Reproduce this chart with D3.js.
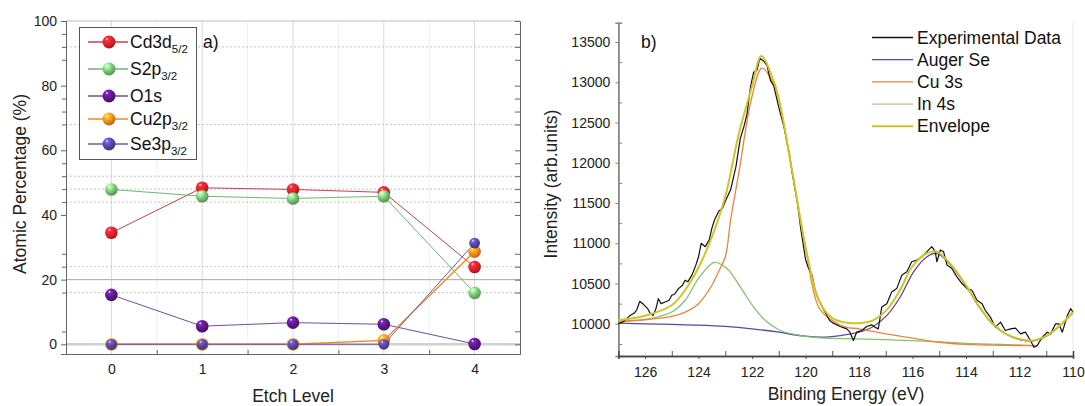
<!DOCTYPE html>
<html>
<head>
<meta charset="utf-8">
<script src="https://cdnjs.cloudflare.com/ajax/libs/d3/7.8.5/d3.min.js"></script>
<style>
body { margin: 0; background: #fff; }
svg { display: block; font-family: "Liberation Sans", Arial, sans-serif; }
</style>
</head>
<body>
<div id="chart"></div>
<script>
// Panel a) data
var etch_levels = [0, 1, 2, 3, 4];
var cd3d  = [34.5, 48.4, 47.9, 47.0, 23.9];
var s2p   = [47.9, 45.8, 45.1, 45.8, 15.9];
var o1s   = [15.3, 5.6, 6.7, 6.2, 0.1];
var cu2p  = [0, 0, 0, 1.2, 28.7];
var se3p  = [0, 0, 0, 0, 31.3];
var series_names = [['Cd3d', '5/2'], ['S2p', '3/2'], ['O1s', ''], ['Cu2p', '3/2'], ['Se3p', '3/2']];
var y_ticks_a = [0, 20, 40, 60, 80, 100];
var y_minor_a = [4, 16, 24, 28, 44, 48, 52, 56, 68, 72, 76, 88, 92, 96];
var dotted_a  = [92, 68, 52, 48, 44, 24, 16];

// Panel b) data  [binding energy, intensity]
var exp_data = [
    [127.0,10000],[126.85,10020],[126.75,10042],[126.56,10104],[126.4,10133],[126.3,10180],
    [126.2,10279],[126.06,10242],[125.9,10188],[125.8,10125],[125.7,10104],[125.6,10180],
    [125.5,10312],[125.4,10250],[125.25,10271],[125.1,10292],[125.0,10354],[124.9,10367],
    [124.75,10437],[124.6,10479],[124.5,10542],[124.4,10521],[124.25,10604],[124.1,10729],
    [124.0,10833],[123.9,11000],[123.75,10958],[123.6,11042],[123.5,11188],[123.4,11292],
    [123.25,11396],[123.1,11438],[123.0,11521],[122.8,11664],[122.6,11955],[122.44,12300],
    [122.3,12453],[122.19,12604],[122.06,12938],[121.94,13125],[121.81,13154],[121.71,13300],
    [121.56,13262],[121.44,13208],[121.31,13021],[121.19,12958],[121.0,12688],[120.8,12438],
    [120.6,12104],[120.5,11880],[120.3,11500],[120.19,11208],[120.0,10800],[119.9,10700],
    [119.75,10600],[119.63,10400],[119.5,10292],[119.31,10167],[119.21,10110],[119.1,10040],
    [118.96,10008],[118.71,9967],[118.46,9937],[118.34,9896],[118.21,9792],[118.09,9896],
    [117.9,9917],[117.71,9967],[117.53,9987],[117.4,9958],[117.28,9937],[117.15,10208],
    [116.96,10250],[116.78,10396],[116.59,10437],[116.4,10604],[116.21,10646],[116.03,10771],
    [115.84,10792],[115.65,10833],[115.46,10896],[115.28,10958],[115.15,10896],[115.09,10771],
    [114.96,10917],[114.84,10896],[114.71,10729],[114.53,10687],[114.34,10583],[114.15,10500],
    [113.96,10437],[113.78,10417],[113.59,10292],[113.4,10250],[113.28,10167],[113.09,10083],
    [112.9,9958],[112.71,10021],[112.53,9917],[112.34,9937],[112.15,9946],[111.96,9875],
    [111.78,9896],[111.59,9792],[111.46,9708],[111.34,9729],[111.15,9833],[110.96,9896],
    [110.84,9875],[110.65,10000],[110.53,10000],[110.4,9896],[110.21,10104],[110.09,10188],
    [110.0,10146]
];
var auger_se = [
    [127,10008],[126,10000],[125,9992],[124,9983],[123,9967],[122,9937],[121,9896],[120.5,9867],
    [120,9846],[119.46,9833],[118.7,9854],[118,9896],[117.46,9967],[116.96,10104],[116.46,10333],
    [115.96,10646],[115.46,10833],[115.09,10875],[114.6,10740],[114,10470],[113.5,10205],
    [113,9995],[112.5,9870],[112,9805],[111.5,9785],[111,9845],[110.5,9970],[110,10140]
];
var cu_3s = [
    [127,10029],[126,10050],[125,10092],[124.5,10146],[124,10250],[123.5,10479],[123.25,10650],
    [123,10830],[122.8,11292],[122.5,11863],[122,12826],[121.63,13175],[121.2,12985],[121,12780],
    [120.5,11880],[120,10940],[119.5,10200],[119,10042],[118.5,9960],[118,9937],[117,9875],
    [116,9821],[115,9771],[114,9745],[113,9735],[112,9729],[111.4,9727]
];
var in_4s = [
    [127,10029],[126,10054],[125,10146],[124.5,10292],[124,10563],[123.41,10763],[122.94,10688],
    [122.44,10458],[121.94,10208],[121.44,10021],[120.94,9917],[120.19,9854],[119.44,9825],
    [118,9812],[116,9792],[114,9758],[112,9737],[111.4,9729]
];
var envelope = [
    [127,10045],[126,10100],[125,10230],[124.5,10420],[124,10700],[123.5,11080],[123,11580],
    [122.5,12350],[122,12950],[121.65,13325],[121.2,13020],[121,12800],[120.5,11900],[120,10960],
    [119.5,10290],[119,10070],[118.5,10015],[118,10008],[117.5,10040],[117,10160],[116.5,10400],
    [116,10715],[115.5,10870],[115.1,10896],[114.6,10750],[114,10480],[113.5,10210],[113,10000],
    [112.5,9875],[112,9812],[111.5,9792],[111,9850],[110.5,9975],[110,10146]
];
var legend_b = ['Experimental Data', 'Auger Se', 'Cu 3s', 'In 4s', 'Envelope'];
var y_ticks_b = [10000, 10500, 11000, 11500, 12000, 12500, 13000, 13500];
var x_ticks_b = [126, 124, 122, 120, 118, 116, 114, 112, 110];

var chart_width  = 1085;
var chart_height = 406;

var svg = d3.select('#chart')
    .append('svg')
    .attr('width', chart_width)
    .attr('height', chart_height);

// sphere gradients for the markers
var colors_a = ['#e2222b', '#7cc878', '#5e1a8c', '#f7901e', '#5a48a8'];
var line_colors_a = ['#c8404a', '#6cb86c', '#7a4a9a', '#f08a1a', '#6a5ab8'];
var defs = svg.append('defs');
colors_a.forEach(function(c, i){
    var g = defs.append('radialGradient')
        .attr('id', 'ball' + i)
        .attr('cx', '38%').attr('cy', '32%').attr('r', '68%')
        .attr('fx', '34%').attr('fy', '26%');
    g.append('stop').attr('offset', '0%').attr('stop-color', '#ffffff');
    g.append('stop').attr('offset', '18%').attr('stop-color', d3.color(c).brighter(0.9));
    g.append('stop').attr('offset', '55%').attr('stop-color', c);
    g.append('stop').attr('offset', '100%').attr('stop-color', d3.color(c).darker(0.9));
});

// ---------- panel a ----------
var x_a = d3.scaleLinear().domain([-0.5, 4.5]).range([66, 520]);
var y_a = d3.scaleLinear().domain([-3, 100]).range([354, 21]);

var pa = svg.append('g');

// vertical grid
pa.selectAll('.vminor')
    .data([0.5, 1.5, 2.5, 3.5])
    .enter()
    .append('line')
    .attr('x1', function(d){ return x_a(d); })
    .attr('x2', function(d){ return x_a(d); })
    .attr('y1', y_a(100)).attr('y2', y_a(-3))
    .attr('stroke', '#f0f0f0');
pa.selectAll('.vgrid')
    .data(etch_levels)
    .enter()
    .append('line')
    .attr('x1', function(d){ return x_a(d); })
    .attr('x2', function(d){ return x_a(d); })
    .attr('y1', y_a(100)).attr('y2', y_a(-3))
    .attr('stroke', '#d9d9d9');

// horizontal grid
pa.selectAll('.hdot')
    .data(dotted_a)
    .enter()
    .append('line')
    .attr('x1', x_a(-0.5)).attr('x2', x_a(4.5))
    .attr('y1', function(d){ return y_a(d); })
    .attr('y2', function(d){ return y_a(d); })
    .attr('stroke', '#c4c4c4')
    .attr('stroke-dasharray', '2,2');
pa.append('line')
    .attr('x1', x_a(-0.5)).attr('x2', x_a(4.5))
    .attr('y1', y_a(20)).attr('y2', y_a(20))
    .attr('stroke', '#a8a8a8');
pa.append('line')
    .attr('x1', x_a(-0.5)).attr('x2', x_a(4.5))
    .attr('y1', y_a(0)).attr('y2', y_a(0))
    .attr('stroke', '#d0d0d0')
    .attr('stroke-width', 2.5);

// top border
pa.append('line')
    .attr('x1', x_a(-0.5)).attr('x2', x_a(4.5))
    .attr('y1', y_a(100)).attr('y2', y_a(100))
    .attr('stroke', '#bbb');

// axes
pa.append('g')
    .attr('transform', 'translate(' + x_a(-0.5) + ',0)')
    .call(d3.axisLeft(y_a).tickValues(y_ticks_a).tickSize(5).tickPadding(4));
pa.append('g')
    .attr('transform', 'translate(' + x_a(-0.5) + ',0)')
    .call(d3.axisLeft(y_a).tickValues(y_minor_a).tickSize(4).tickFormat(''));
pa.append('g')
    .attr('transform', 'translate(' + x_a(4.5) + ',0)')
    .call(d3.axisLeft(y_a).tickValues(y_ticks_a.concat(y_minor_a)).tickSize(5).tickFormat(''));
pa.append('g')
    .attr('transform', 'translate(0,' + y_a(-3) + ')')
    .call(d3.axisBottom(x_a).tickValues(etch_levels).tickSize(0).tickPadding(10).tickFormat(d3.format('d')));
pa.append('g')
    .attr('transform', 'translate(0,' + y_a(-3) + ')')
    .call(d3.axisBottom(x_a).tickValues([0.5, 1.5, 2.5, 3.5]).tickSize(-4).tickFormat(''));
pa.selectAll('.domain').attr('stroke', '#666');
pa.selectAll('.tick line').attr('stroke', '#666');
pa.selectAll('.tick text').attr('font-size', 14).attr('fill', '#222')
    .attr('font-family', '"Liberation Sans", Arial, sans-serif');

// lines and markers
var all_series = [cd3d, s2p, o1s, cu2p, se3p];
var line_a = d3.line()
    .x(function(d, i){ return x_a(etch_levels[i]); })
    .y(function(d){ return y_a(d); });

all_series.forEach(function(s, k){
    pa.append('path')
        .datum(s)
        .attr('d', line_a)
        .attr('fill', 'none')
        .attr('stroke', line_colors_a[k])
        .attr('stroke-width', k === 3 ? 1.4 : 1);
});
all_series.forEach(function(s, k){
    pa.selectAll('.m' + k)
        .data(s)
        .enter()
        .append('circle')
        .attr('cx', function(d, i){ return x_a(etch_levels[i]); })
        .attr('cy', function(d){ return y_a(d); })
        .attr('r', k === 4 ? 5.4 : 6.3)
        .attr('fill', 'url(#ball' + k + ')');
});

// legend a
pa.append('rect')
    .attr('x', 79.5).attr('y', 27.5)
    .attr('width', 117).attr('height', 132)
    .attr('fill', '#fff')
    .attr('stroke', '#555');
var leg_a = pa.selectAll('.lega')
    .data(series_names)
    .enter()
    .append('g')
    .attr('transform', function(d, i){ return 'translate(0,' + [42, 69, 96, 119, 144][i] + ')'; });
leg_a.append('line')
    .attr('x1', 88).attr('x2', 128)
    .attr('stroke', function(d, i){ return line_colors_a[i]; })
    .attr('stroke-width', 1.3);
leg_a.append('circle')
    .attr('cx', 109).attr('r', 6.5)
    .attr('fill', function(d, i){ return 'url(#ball' + i + ')'; });
var leg_a_text = leg_a.append('text')
    .attr('x', 130)
    .attr('y', 6)
    .attr('font-size', 17.5)
    .attr('fill', '#111');
leg_a_text.append('tspan').text(function(d){ return d[0]; });
leg_a_text.append('tspan')
    .attr('dy', 5)
    .attr('font-size', 11.5)
    .text(function(d){ return d[1]; });

pa.append('text')
    .attr('x', 203).attr('y', 48)
    .attr('font-size', 17.5)
    .attr('fill', '#111')
    .text('a)');

pa.append('text')
    .attr('transform', 'translate(20,184) rotate(-90)')
    .attr('text-anchor', 'middle')
    .attr('dominant-baseline', 'central')
    .attr('font-size', 17.5)
    .attr('fill', '#222')
    .text('Atomic Percentage (%)');
pa.append('text')
    .attr('x', x_a(2)).attr('y', 396)
    .attr('text-anchor', 'middle')
    .attr('dominant-baseline', 'central')
    .attr('font-size', 17.5)
    .attr('fill', '#222')
    .text('Etch Level');

// ---------- panel b ----------
var x_b = d3.scaleLinear().domain([127, 110]).range([618.3, 1073]);
var y_b = d3.scaleLinear().domain([9600, 13740]).range([356, 22.7]);

var pb = svg.append('g');

pb.append('line')
    .attr('x1', x_b(110)).attr('x2', x_b(110))
    .attr('y1', y_b(13740)).attr('y2', y_b(9600))
    .attr('stroke', '#e6e6e6');

pb.append('g')
    .attr('class', 'bleft')
    .attr('transform', 'translate(' + x_b(127) + ',0)')
    .call(d3.axisLeft(y_b).tickValues(y_ticks_b).tickSize(3).tickPadding(5).tickFormat(d3.format('d')));
pb.append('g')
    .attr('class', 'bleft')
    .attr('transform', 'translate(' + x_b(127) + ',0)')
    .call(d3.axisLeft(y_b).tickValues([9750, 10250, 10750, 11250, 11750, 12250, 12750, 13250]).tickSize(-4).tickFormat(''));
pb.append('g')
    .attr('class', 'bbottom')
    .attr('transform', 'translate(0,' + y_b(9600) + ')')
    .call(d3.axisBottom(x_b).tickValues(x_ticks_b).tickSize(3).tickPadding(8).tickFormat(d3.format('d')));
pb.append('g')
    .attr('class', 'bbottom')
    .attr('transform', 'translate(0,' + y_b(9600) + ')')
    .call(d3.axisBottom(x_b).tickValues([127, 125, 123, 121, 119, 117, 115, 113, 111]).tickSize(-5).tickFormat(''));
pb.selectAll('.bleft .domain').attr('stroke', '#888').attr('stroke-width', 1.5);
pb.selectAll('.bleft .tick line').attr('stroke', '#888');
pb.selectAll('.bbottom .domain').attr('stroke', '#444').attr('stroke-width', 1.5);
pb.selectAll('.bbottom .tick line').attr('stroke', '#555');
pb.selectAll('.tick text').attr('font-size', 14).attr('fill', '#222')
    .attr('font-family', '"Liberation Sans", Arial, sans-serif');

var line_b = d3.line()
    .x(function(d){ return x_b(d[0]); })
    .y(function(d){ return y_b(d[1]); });
var smooth_b = d3.line()
    .curve(d3.curveCatmullRom.alpha(0.5))
    .x(function(d){ return x_b(d[0]); })
    .y(function(d){ return y_b(d[1]); });

var curves_b = [
    { data: auger_se, color: '#5b47a0', width: 1.3, fn: smooth_b },
    { data: in_4s, color: '#80c46c', width: 1.3, fn: smooth_b },
    { data: cu_3s, color: '#f0823a', width: 1.3, fn: smooth_b },
    { data: exp_data, color: '#111111', width: 1.2, fn: line_b },
    { data: envelope, color: '#d4c324', width: 2, fn: smooth_b }
];
curves_b.forEach(function(c){
    pb.append('path')
        .datum(c.data)
        .attr('d', c.fn)
        .attr('fill', 'none')
        .attr('stroke', c.color)
        .attr('stroke-width', c.width)
        .attr('stroke-linejoin', 'round');
});

// legend b
var legend_colors_b = ['#111111', '#5b47a0', '#f0823a', '#9fd08a', '#d4c324'];
var leg_b = pb.selectAll('.legb')
    .data(legend_b)
    .enter()
    .append('g')
    .attr('transform', function(d, i){ return 'translate(0,' + (37.5 + i * 22.2) + ')'; });
leg_b.append('line')
    .attr('x1', 872).attr('x2', 913)
    .attr('stroke', function(d, i){ return legend_colors_b[i]; })
    .attr('stroke-width', function(d, i){ return i === 4 ? 2 : 1.3; });
leg_b.append('text')
    .attr('x', 917)
    .attr('dominant-baseline', 'central')
    .attr('font-size', 17.5)
    .attr('fill', '#111')
    .text(function(d){ return d; });

pb.append('text')
    .attr('x', 641).attr('y', 48)
    .attr('font-size', 17.5)
    .attr('fill', '#111')
    .text('b)');

pb.append('text')
    .attr('transform', 'translate(551,184) rotate(-90)')
    .attr('text-anchor', 'middle')
    .attr('dominant-baseline', 'central')
    .attr('font-size', 17.5)
    .attr('fill', '#222')
    .text('Intensity (arb.units)');
pb.append('text')
    .attr('x', 846).attr('y', 394)
    .attr('text-anchor', 'middle')
    .attr('dominant-baseline', 'central')
    .attr('font-size', 17.5)
    .attr('fill', '#222')
    .text('Binding Energy (eV)');
</script>
</body>
</html>
